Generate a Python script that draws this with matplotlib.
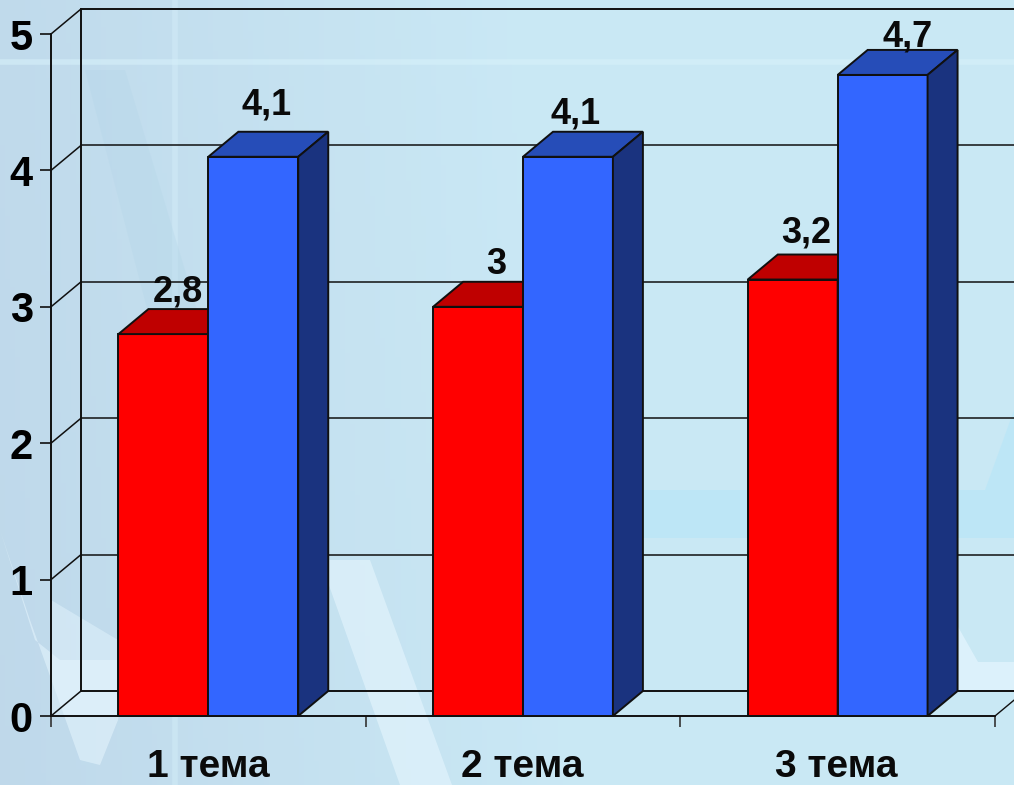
import numpy as np
import matplotlib.pyplot as plt
from matplotlib.patches import Polygon

categories = ['1 тема', '2 тема', '3 тема']
red_values = [2.8, 3.0, 3.2]
blue_values = [4.1, 4.1, 4.7]
red_labels = ['2,8', '3', '3,2']
blue_labels = ['4,1', '4,1', '4,7']
y_ticks = [0, 1, 2, 3, 4, 5]

# сдвиг подписей вручную (доли категории, значения)
red_nudge = [(-0.01, 0.0), (-0.0, 0.0), (-0.013, 0.03)]
blue_nudge = [(0.0, 0.07), (-0.02, -0.0), (0.038, -0.03)]

W, H = 1014, 785
plt.rcParams['font.family'] = ['Liberation Sans', 'DejaVu Sans']
plt.rcParams['font.weight'] = 'bold'

fig = plt.figure(figsize=(W / 100, H / 100), dpi=100)

# фон: градиент и бледные полосы
bg = fig.add_axes([0, 0, 1, 1])
bg.set_xlim(0, W)
bg.set_ylim(H, 0)
bg.axis('off')
yy, xx = np.mgrid[0:1:200j, 0:1:200j]
t = np.clip(xx * 1.8 + (1 - yy) * 0.1, 0, 1)[..., None]
grad = np.array([0.75, 0.85, 0.92]) * (1 - t) + np.array([0.79, 0.91, 0.96]) * t
bg.imshow(grad, extent=[0, W, H, 0], aspect='auto', zorder=0)

bg.axhline(62, color='#d8f2fb', lw=4, alpha=0.55, zorder=1)
bg.axvline(175, color='#d8f2fb', lw=4, alpha=0.4, zorder=1)
bg.add_patch(Polygon([(0, 530), (30, 620), (80, 760), (100, 765), (118, 720), (135, 600), (135, 716),
                      (118, 660), (60, 660), (35, 640)],
                     color='#e6f6fe', alpha=0.55, lw=0, zorder=1))
bg.add_patch(Polygon([(51, 600), (118, 640), (118, 716), (51, 716)], color='#e6f6fe', alpha=0.45, lw=0, zorder=1))
bg.add_patch(Polygon([(320, 560), (400, 785), (452, 785), (370, 560)],
                     color='#e6f6fe', alpha=0.6, lw=0, zorder=1))
bg.add_patch(Polygon([(85, 70), (125, 70), (200, 320), (150, 320)],
                     color='#b4d6e8', alpha=0.35, lw=0, zorder=1))
bg.add_patch(Polygon([(640, 490), (985, 490), (1014, 410), (1014, 538), (640, 538)],
                     color='#b6e6f8', alpha=0.6, lw=0, zorder=1))
bg.add_patch(Polygon([(957, 625), (978, 662), (1014, 662), (1014, 690), (957, 690)],
                     color='#e0f3fd', alpha=0.85, lw=0, zorder=1))

# оси: 0..3 по категориям, 0..5 по значениям
ax = fig.add_axes([51 / W, 1 - 716 / H, 944 / W, 682 / H])
ax.set_xlim(0, 3)
ax.set_ylim(0, 5)
ax.patch.set_alpha(0)
for s in ax.spines.values():
    s.set_visible(False)

dx = 30 / 944 * 3
dy = 25 / 682 * 5
bar_w = 2 / 7
lw = 1.4
edge = '#101010'


def draw_bar(left, value, front, top, side, z):
    right = left + bar_w
    ax.add_patch(Polygon([(left, 0), (right, 0), (right, value), (left, value)],
                         fc=front, ec=edge, lw=lw, zorder=z, clip_on=False))
    ax.add_patch(Polygon([(left, value), (right, value), (right + dx, value + dy), (left + dx, value + dy)],
                         fc=top, ec=edge, lw=lw, zorder=z, clip_on=False))
    ax.add_patch(Polygon([(right, 0), (right + dx, dy), (right + dx, value + dy), (right, value)],
                         fc=side, ec=edge, lw=lw, zorder=z, clip_on=False))


# стенки и сетка
ax.plot([dx, dx], [dy, 5 + dy - 0.01], color=edge, lw=lw, zorder=2, clip_on=False)
ax.plot([0, 0], [0, 5], color=edge, lw=lw, zorder=2, clip_on=False)
ax.plot([0, 3], [0, 0], color=edge, lw=lw, zorder=4, clip_on=False)
ax.plot([3, 3 + dx], [0, dy], color=edge, lw=1, zorder=2, clip_on=False)
for v in y_ticks:
    ax.plot([dx, 3 + dx], [v + dy, v + dy], color=edge, lw=lw if v in (0, 5) else 1.1, zorder=2, clip_on=False)
    ax.plot([0, dx], [v, v + dy], color=edge, lw=1.1, zorder=2, clip_on=False)

ax.set_yticks(y_ticks)
ax.set_xticks(range(4))
ax.set_xticklabels([])
ax.set_yticklabels([str(v) for v in y_ticks], fontsize=30, fontweight='bold')
ax.tick_params(axis='y', length=8, width=1.2, color=edge, pad=5)
ax.tick_params(axis='x', length=8, width=1.2, color='#333333')

for i, cat in enumerate(categories):
    left = i + 0.75 * bar_w
    draw_bar(left, red_values[i], '#ff0000', '#bf0000', '#7f0000', 5 + i)
    draw_bar(left + bar_w, blue_values[i], '#3366ff', '#264db8', '#1a337f', 5 + i)
    rn, bn = red_nudge[i], blue_nudge[i]
    ax.text(left + 0.7 * bar_w + rn[0], red_values[i] + dy + rn[1], red_labels[i], ha='center', va='bottom',
            fontsize=26, zorder=20, color='#0a0a0a')
    ax.text(left + 1.65 * bar_w + bn[0], blue_values[i] + dy + bn[1], blue_labels[i], ha='center', va='bottom',
            fontsize=26, zorder=20, color='#0a0a0a')
    ax.text(i + 0.5 - 0.003 * i, -0.245, cat, ha='center', va='top', fontsize=28, color='#0a0a0a', clip_on=False)

fig.savefig('out.png', dpi=100)
